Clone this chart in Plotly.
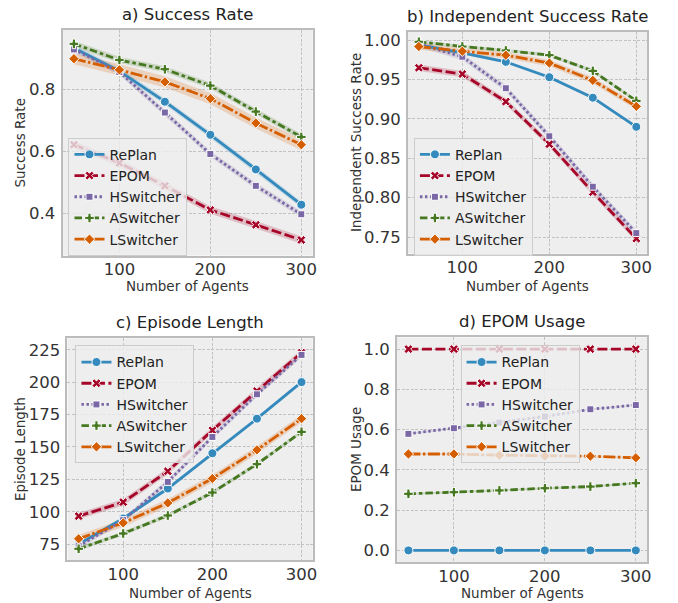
import plotly.graph_objects as go

agents = [50, 100, 150, 200, 250, 300]
methods = ["RePlan", "EPOM", "HSwitcher", "ASwitcher", "LSwitcher"]

# a) Success Rate
sr_replan = [0.935, 0.860, 0.761, 0.654, 0.542, 0.428]
sr_epom = [0.622, 0.563, 0.489, 0.411, 0.363, 0.314]
sr_hsw = [0.930, 0.857, 0.726, 0.592, 0.489, 0.397]
sr_asw = [0.948, 0.896, 0.866, 0.813, 0.729, 0.647]
sr_lsw = [0.900, 0.864, 0.825, 0.771, 0.692, 0.622]
sr_err = [0.010, 0.012, 0.010, 0.010, 0.018]

# b) Independent Success Rate
isr_replan = [0.994, 0.984, 0.9725, 0.953, 0.927, 0.890]
isr_epom = [0.965, 0.957, 0.922, 0.868, 0.807, 0.748]
isr_hsw = [0.995, 0.979, 0.939, 0.878, 0.814, 0.755]
isr_asw = [0.998, 0.992, 0.987, 0.981, 0.961, 0.923]
isr_lsw = [0.992, 0.986, 0.981, 0.971, 0.949, 0.916]
isr_err = [0.002, 0.004, 0.004, 0.002, 0.004]

# c) Episode Length
el_replan = [75.0, 94.8, 117.9, 145.1, 171.8, 200.0]
el_epom = [96.6, 107.4, 131.2, 162.8, 193.1, 222.7]
el_hsw = [73.4, 93.5, 123.0, 157.7, 190.6, 221.0]
el_asw = [71.4, 83.2, 97.1, 114.8, 136.7, 161.6]
el_lsw = [79.1, 91.4, 106.8, 125.6, 147.7, 171.8]
el_err = [1.5, 2.5, 2.0, 1.5, 3.0]

# d) EPOM Usage
eu_replan = [0.0, 0.0, 0.0, 0.0, 0.0, 0.0]
eu_epom = [1.0, 1.0, 1.0, 1.0, 1.0, 1.0]
eu_hsw = [0.579, 0.607, 0.635, 0.665, 0.701, 0.722]
eu_asw = [0.281, 0.289, 0.298, 0.309, 0.317, 0.334]
eu_lsw = [0.479, 0.479, 0.473, 0.469, 0.468, 0.460]
eu_err = [0.0, 0.0, 0.004, 0.004, 0.004]

W, H = 678, 603

panels = [
    dict(title="a) Success Rate", ytitle="Success Rate",
         data=[sr_replan, sr_epom, sr_hsw, sr_asw, sr_lsw], err=sr_err,
         yrange=[0.2635, 0.993], ticks=[0.4, 0.6, 0.8], ticktext=["0.4", "0.6", "0.8"],
         box=(63, 315, 29, 255), ytx=20, xty=285, leg=(69, 137)),
    dict(title="b) Independent Success Rate", ytitle="Independent Success Rate",
         data=[isr_replan, isr_epom, isr_hsw, isr_asw, isr_lsw], err=isr_err,
         yrange=[0.729, 1.0105], ticks=[0.75, 0.80, 0.85, 0.90, 0.95, 1.00],
         ticktext=["0.75", "0.80", "0.85", "0.90", "0.95", "1.00"],
         box=(411, 652, 31, 253), ytx=358, xty=285, leg=(417, 137)),
    dict(title="c) Episode Length", ytitle="Episode Length",
         data=[el_replan, el_epom, el_hsw, el_asw, el_lsw], err=el_err,
         yrange=[62.7, 233.7], ticks=[75, 100, 125, 150, 175, 200, 225],
         ticktext=["75", "100", "125", "150", "175", "200", "225"],
         box=(68, 315, 338, 560), ytx=20, xty=593, leg=(76, 345)),
    dict(title="d) EPOM Usage", ytitle="EPOM Usage",
         data=[eu_replan, eu_epom, eu_hsw, eu_asw, eu_lsw], err=eu_err,
         yrange=[-0.058, 1.058], ticks=[0.0, 0.2, 0.4, 0.6, 0.8, 1.0],
         ticktext=["0.0", "0.2", "0.4", "0.6", "0.8", "1.0"],
         box=(400, 652, 337, 562), ytx=358, xty=593, leg=(464, 345)),
]

colors = ["#348ABD", "#A60628", "#7A68A6", "#467821", "#D55E00"]
fills = ["rgba(52,138,189,0.2)", "rgba(166,6,40,0.2)", "rgba(122,104,166,0.2)",
         "rgba(70,120,33,0.2)", "rgba(213,94,0,0.2)"]
symbols = ["circle", "x", "square", "cross", "diamond"]
msizes = [9, 8, 7, 8, 8]
dashes = ["solid", "10px,3.5px", "2.5px,2.5px", "7.5px,3px,3.5px,3px", "12px,2.5px,2.5px,2.5px"]

fig = go.Figure()
font_family = "DejaVu Sans"

for pi, p in enumerate(panels):
    n = "" if pi == 0 else str(pi + 1)
    xa, ya = "x" + n, "y" + n
    legname = "legend" + n
    x0, x1, y0, y1 = p["box"]
    dom_x = [x0 / W, x1 / W]
    dom_y = [1 - y1 / H, 1 - y0 / H]
    for mi, vals in enumerate(p["data"]):
        e = p["err"][mi]
        if e > 0:
            up = [v + e for v in vals]
            lo = [v - e for v in vals]
            fig.add_trace(go.Scatter(
                x=agents + agents[::-1], y=up + lo[::-1], fill="toself",
                fillcolor=fills[mi], line=dict(width=0), mode="lines",
                hoverinfo="skip", showlegend=False, xaxis=xa, yaxis=ya))
    for mi, vals in enumerate(p["data"]):
        fig.add_trace(go.Scatter(
            x=agents, y=vals, mode="lines+markers", name=methods[mi],
            line=dict(color=colors[mi], width=2.8, dash=dashes[mi]),
            marker=dict(symbol=symbols[mi], size=msizes[mi], color=colors[mi],
                        line=dict(color="white", width=1)),
            xaxis=xa, yaxis=ya, legend=legname, showlegend=True))

    axis_common = dict(showgrid=True, gridcolor="#c2c2c2", griddash="3px,1.5px", gridwidth=1,
                       showline=True, linecolor="#bcbcbc", linewidth=2, mirror=True,
                       zeroline=False, ticks="", tickfont=dict(size=16.5, color="#333333"))
    fig.layout["xaxis" + n] = dict(
        domain=dom_x, anchor=ya, range=[37.5, 312.5],
        tickvals=[100, 200, 300], ticktext=["100", "200", "300"],
        ticklabelstandoff=-2, **axis_common)
    fig.layout["yaxis" + n] = dict(
        domain=dom_y, anchor=xa, range=p["yrange"],
        tickvals=p["ticks"], ticktext=p["ticktext"],
        ticklabelstandoff=2, **axis_common)
    fig.layout[legname] = dict(
        x=p["leg"][0] / W, y=1 - p["leg"][1] / H, xanchor="left", yanchor="top",
        bgcolor="rgba(238,238,238,0.8)", bordercolor="#cccccc", borderwidth=1,
        font=dict(size=14, color="#222222", family=font_family),
        tracegroupgap=0, itemwidth=30)
    cx = (x0 + x1) / 2 / W
    fig.add_annotation(text=p["title"], x=cx, y=1 - (y0 - 4) / H,
                       xref="paper", yref="paper", xanchor="center", yanchor="bottom",
                       showarrow=False, font=dict(size=16.5, color="#222222"))
    fig.add_annotation(text="Number of Agents", x=cx, y=1 - p["xty"] / H,
                       xref="paper", yref="paper", xanchor="center", yanchor="middle",
                       showarrow=False, font=dict(size=13.5, color="#333333"))
    fig.add_annotation(text=p["ytitle"], x=p["ytx"] / W, y=1 - (y0 + y1) / 2 / H,
                       xref="paper", yref="paper", xanchor="center", yanchor="middle",
                       textangle=-90, showarrow=False,
                       font=dict(size=13.5, color="#333333"))

fig.update_layout(
    width=W, height=H, margin=dict(l=0, r=0, t=0, b=0),
    paper_bgcolor="white", plot_bgcolor="#EEEEEE",
    font=dict(family=font_family, color="#333333"),
)

fig.write_html("out.html", config={"displayModeBar": False},
               post_script="document.body.style.margin='0';document.body.style.overflow='hidden';")
